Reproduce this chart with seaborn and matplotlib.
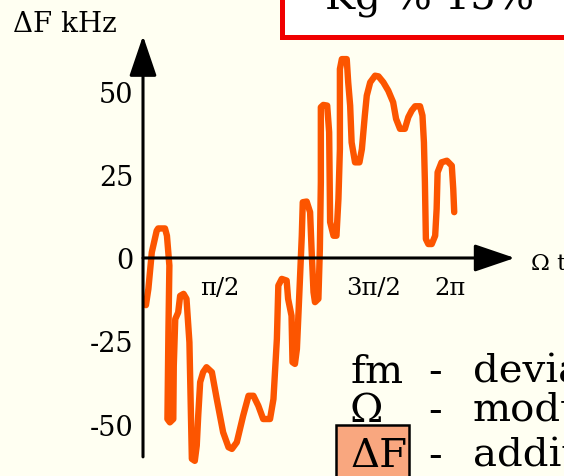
import matplotlib.pyplot as plt
import pandas as pd
import seaborn as sns
from matplotlib.patches import Rectangle

sns.set_style("white")
plt.rcParams["font.family"] = ["DejaVu Serif", "DejaVu Sans"]
plt.rcParams["text.color"] = "black"
plt.rcParams["xtick.color"] = "black"
plt.rcParams["ytick.color"] = "black"

# curve: Omega*t in radians, deviation in kHz
omega_t = [0.06, 0.11, 0.18, 0.28, 0.31, 0.45, 0.49, 0.54, 0.52, 0.50,
           0.55, 0.62, 0.63, 0.66, 0.72, 0.76, 0.83, 0.89, 0.95, 1.00,
           1.06, 1.10, 1.13, 1.17, 1.23, 1.30, 1.41, 1.51, 1.64, 1.75,
           1.82, 1.92, 2.05, 2.16, 2.26, 2.36, 2.46, 2.60, 2.67, 2.74,
           2.77, 2.84, 2.94, 2.97, 3.04, 3.06, 3.11, 3.15, 3.18, 3.21,
           3.25, 3.27, 3.35, 3.42, 3.45, 3.49, 3.52, 3.59, 3.62, 3.64,
           3.64, 3.69, 3.77, 3.81, 3.83, 3.90, 3.96, 4.00, 4.03, 4.03,
           4.07, 4.17, 4.20, 4.24, 4.27, 4.34, 4.43, 4.48, 4.54, 4.58,
           4.65, 4.75, 4.82, 4.92, 5.02, 5.12, 5.18, 5.26, 5.36, 5.43,
           5.50, 5.57, 5.67, 5.72, 5.75, 5.77, 5.79, 5.84, 5.91, 5.98,
           6.01, 6.03, 6.11, 6.22, 6.32, 6.35, 6.37]
delta_f = [-14.2, -9.3, 1.7, 8.2, 8.9, 8.9, 6.7, -2.3, -22.4, -48.5,
           -49.5, -48.5, -32.4, -18.4, -16.4, -11.4, -10.8, -12.3, -25.4, -60.5,
           -61.1, -56.5, -47.5, -37.4, -34.4, -32.9, -34.4, -42.5, -52.5, -57.0,
           -57.5, -55.5, -47.5, -41.5, -41.5, -44.5, -48.5, -48.5, -42.5, -24.4,
           -8.3, -6.3, -6.8, -12.3, -17.4, -31.4, -31.9, -27.4, -17.4, -7.2,
           6.7, 16.8, 17.0, 13.8, 2.7, -10.3, -13.3, -12.3, 2.7, 22.8,
           45.4, 46.1, 45.9, 37.9, 10.8, 6.7, 6.7, 17.8, 32.8, 56.9,
           59.9, 59.9, 52.9, 45.9, 34.8, 28.8, 28.8, 32.8, 42.9, 48.9,
           52.9, 54.9, 54.7, 52.9, 50.4, 46.9, 41.9, 38.9, 38.9, 42.4,
           44.4, 45.7, 45.7, 42.9, 34.8, 22.8, 5.7, 4.2, 4.2, 6.7,
           14.8, 25.8, 28.8, 29.3, 27.8, 20.8, 13.8]

pi = 3.141592653589793
x_ticks = [pi / 2, pi, 3 * pi / 2, 2 * pi]
x_tick_labels = ["π/2", "", "3π/2", "2π"]
y_ticks = [-50, -25, 0, 25, 50]
y_tick_labels = ["-50", "-25", "0", "25", "50"]

legend_terms = ["fm", "Ω", "ΔF"]
legend_words = ["deviation", "modulation", "additional"]

bg = "#FFFFF2"
fig = plt.figure(figsize=(5.64, 4.77), dpi=100, facecolor=bg)
ax = fig.add_axes([0, 0, 1, 1])
ax.set_facecolor("none")

df = pd.DataFrame({"wt": omega_t, "df": delta_f})
sns.lineplot(data=df, x="wt", y="df", sort=False, estimator=None, ax=ax,
             color="#FC5500", linewidth=4.6, solid_joinstyle="round",
             solid_capstyle="round", zorder=3)

# scale: 2*pi over 307 px, 25 kHz over 83 px, origin at (143, 259) px
ax.set_xlim(-2.927, 8.617)
ax.set_ylim(-65.66, 78.0)

for s in ax.spines.values():
    s.set_visible(False)
ax.spines["left"].set_position("zero")
ax.spines["bottom"].set_position("zero")

ax.set_xticks(x_ticks, x_tick_labels, fontsize=17.5)
ax.set_yticks(y_ticks, y_tick_labels, fontsize=19.5)
ax.tick_params(axis="both", direction="inout", length=13.5, width=2.2,
               colors="black")
ax.tick_params(axis="x", pad=6)
ax.tick_params(axis="y", pad=0)
ax.set_xlabel("")
ax.set_ylabel("")
ax.grid(False)

arrow = dict(arrowstyle="-|>,head_length=2.5,head_width=0.85",
             mutation_scale=10, color="black", lw=2.2,
             shrinkA=0, shrinkB=0)
ax.annotate("", xy=(0, 66.9), xytext=(0, -59.9), arrowprops=arrow)
ax.annotate("", xy=(7.61, 0), xytext=(0, 0), arrowprops=arrow)

fig.text(13 / 564, 1 - 32 / 477, "ΔF kHz", fontsize=20, va="baseline")
fig.text(531 / 564, 1 - 270 / 477, "Ω t", fontsize=16.5, va="baseline")

# red framed box cut by the top edge
fig.patches.append(Rectangle((282 / 564, 1 - 38 / 477), 0.6, 0.3,
                             transform=fig.transFigure, facecolor="white",
                             edgecolor="#F00000", linewidth=3.6, zorder=1))
fig.text(325 / 564, 1 - 10 / 477, "Kg % 15%", fontsize=29, va="baseline",
         zorder=2)

# explanation lines at the lower right
fig.patches.append(Rectangle((336 / 564, -0.05), 73 / 564, 0.05 + 51 / 477,
                             transform=fig.transFigure, facecolor="#F9A77F",
                             edgecolor="black", linewidth=1.8, zorder=1))
baselines = [383, 422, 467]
for term, word, b in zip(legend_terms, legend_words, baselines):
    y = 1 - b / 477
    fig.text(350 / 564, y, term, fontsize=29, va="baseline", zorder=2)
    fig.text(428 / 564, y, "-", fontsize=29, va="baseline", zorder=2)
    fig.text(473 / 564, y, word, fontsize=29, va="baseline", zorder=2)

fig.savefig("out.png", dpi=100, facecolor=bg)
